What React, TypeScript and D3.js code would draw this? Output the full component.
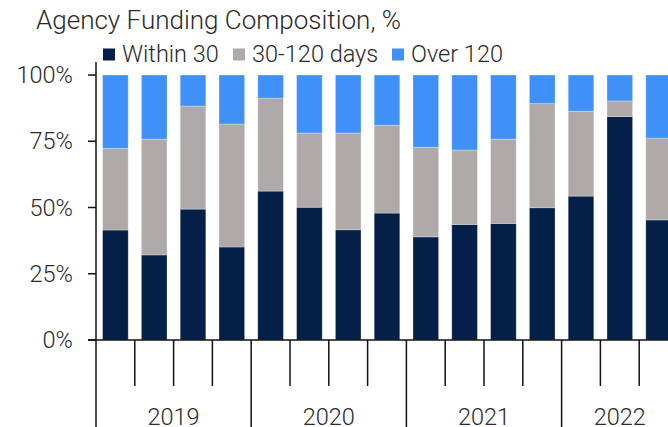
import React, { useRef, useEffect } from 'react';
import * as d3 from 'd3';

const quarters = [
  '2019Q1', '2019Q2', '2019Q3', '2019Q4',
  '2020Q1', '2020Q2', '2020Q3', '2020Q4',
  '2021Q1', '2021Q2', '2021Q3', '2021Q4',
  '2022Q1', '2022Q2', '2022Q3',
];
const years = ['2019', '2020', '2021', '2022'];
const within30 = [41.5, 32.1, 49.4, 35.1, 56.2, 50.1, 41.6, 47.9, 38.9, 43.6, 44.0, 49.9, 54.3, 84.3, 45.3];
const days30to120 = [30.8, 43.7, 38.9, 46.4, 35.1, 28.0, 36.5, 33.1, 33.8, 28.1, 31.8, 39.3, 32.0, 5.9, 30.9];
const over120 = [27.7, 24.2, 11.7, 18.5, 8.7, 21.9, 21.9, 19.0, 27.3, 28.3, 24.2, 10.8, 13.7, 9.8, 23.8];
const seriesNames = ['Within 30', '30-120 days', 'Over 120'];
const yTicks = [0, 25, 50, 75, 100];

const colors = ['#041f48', '#afaaa9', '#3f91f7'];
const font = 'Roboto, sans-serif';

const App = () => {
  const ref = useRef<SVGSVGElement>(null);

  useEffect(() => {
    const svg = d3.select(ref.current);
    svg.selectAll('*').remove();

    const left = 96;
    const step = 38.8;
    const top = 75;
    const bottom = 340;

    const x = d3
      .scaleBand()
      .domain(quarters)
      .range([left, left + step * quarters.length])
      .paddingInner(0.34)
      .paddingOuter(0.17);
    const y = d3.scaleLinear().domain([0, 100]).range([bottom, top]);

    const rows = quarters.map((q, i) => ({
      q,
      within: within30[i],
      mid: days30to120[i],
      over: over120[i],
    }));
    const stack = d3.stack<any>().keys(['within', 'mid', 'over'])(rows);

    const label = (sel: any, size = '23.5px') =>
      sel
        .style('font-family', font)
        .style('font-weight', 300)
        .style('font-size', size)
        .attr('fill', '#2a2a2a');

    svg
      .append('text')
      .attr('x', 36)
      .attr('y', 28.5)
      .call(label, '26px')
      .text('Agency Funding Composition, %');

    // legend
    const legendX = [103, 233, 392];
    seriesNames.forEach((name, i) => {
      const g = svg.append('g').attr('transform', `translate(${legendX[i]},0)`);
      g.append('rect').attr('x', 0).attr('y', 48.5).attr('width', 12).attr('height', 12).attr('fill', colors[i]);
      g.append('text').attr('x', 19).attr('y', 61.5).call(label).text(name);
    });

    // bars
    svg
      .append('g')
      .selectAll('g')
      .data(stack)
      .enter()
      .append('g')
      .attr('fill', (_d, i) => colors[i])
      .selectAll('rect')
      .data((d) => d)
      .enter()
      .append('rect')
      .attr('x', (d: any) => x(d.data.q)!)
      .attr('width', x.bandwidth())
      .attr('y', (d) => y(d[1]))
      .attr('height', (d) => y(d[0]) - y(d[1]))
      .attr('stroke', 'rgba(255,255,255,0.35)')
      .attr('stroke-width', 0.8);

    // y axis
    const yAxis = svg.append('g');
    yAxis
      .append('line')
      .attr('x1', left)
      .attr('x2', left)
      .attr('y1', 62)
      .attr('y2', bottom)
      .attr('stroke', '#111')
      .attr('stroke-width', 1.5);
    yTicks.forEach((t) => {
      yAxis
        .append('line')
        .attr('x1', left - 8)
        .attr('x2', left)
        .attr('y1', y(t))
        .attr('y2', y(t))
        .attr('stroke', '#111')
        .attr('stroke-width', 1.5);
      yAxis
        .append('text')
        .attr('x', 73)
        .attr('y', y(t) + 8)
        .attr('text-anchor', 'end')
        .call(label)
        .text(`${t}%`);
    });

    // x axis
    const xAxis = svg.append('g');
    xAxis
      .append('line')
      .attr('x1', left - 8)
      .attr('x2', 668)
      .attr('y1', bottom)
      .attr('y2', bottom)
      .attr('stroke', '#111')
      .attr('stroke-width', 1.5);
    const bounds = quarters.map((q) => x(q)! - (x.step() * x.paddingInner()) / 2);
    bounds.push(bounds[bounds.length - 1] + x.step());
    bounds.forEach((b, i) => {
      const q = quarters[i];
      const major = i === 0 || (q && q.endsWith('Q1'));
      xAxis
        .append('line')
        .attr('x1', b)
        .attr('x2', b)
        .attr('y1', bottom)
        .attr('y2', major ? 427 : 386)
        .attr('stroke', '#111')
        .attr('stroke-width', 1.5);
    });
    years.forEach((yr) => {
      const qs = quarters.filter((q) => q.startsWith(yr));
      const start = x(qs[0])! - (x.step() * x.paddingInner()) / 2;
      const cx = start + (qs.length * x.step()) / 2;
      xAxis
        .append('text')
        .attr('x', cx)
        .attr('y', 425)
        .attr('text-anchor', 'middle')
        .call(label)
        .text(yr);
    });
  }, []);

  return (
    <svg
      ref={ref}
      width={668}
      height={427}
      style={{ position: 'absolute', left: 0, top: 0, background: '#fff' }}
    ></svg>
  );
};

export default App;
